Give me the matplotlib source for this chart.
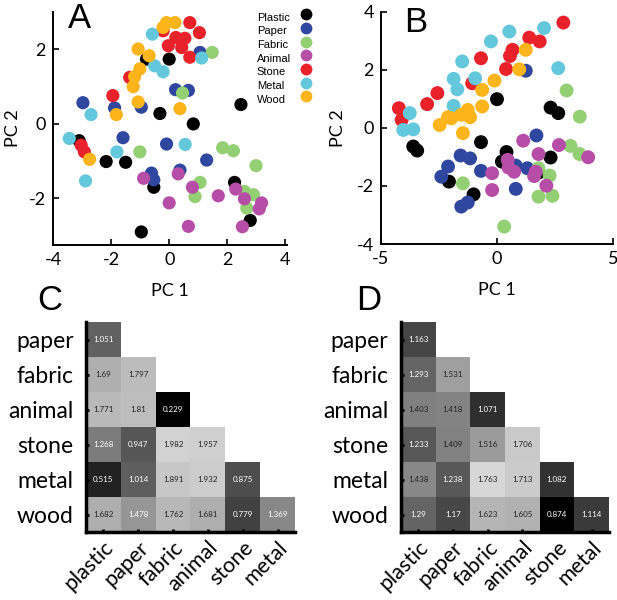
import numpy as np
import matplotlib
matplotlib.use('Agg')
import matplotlib.pyplot as plt
from matplotlib.lines import Line2D

plt.rcParams['font.family'] = ['Lato', 'DejaVu Sans']
plt.rcParams['axes.unicode_minus'] = False

categories = ['Plastic', 'Paper', 'Fabric', 'Animal', 'Stone', 'Metal', 'Wood']
colors = ['#000000', '#2f479e', '#93cf73', '#b64ea7', '#e9212b', '#64c8dc', '#fbb51a']

# Panel A, PC scores per material
a_plastic_x = [-0.78, 0.0, 2.47, -0.32, 0.83, -2.17, -1.5, -0.53, 2.25, 2.79, -0.96, -3.1]
a_plastic_y = [1.74, 1.74, 0.52, 0.28, 0.0, -1.01, -1.03, -1.70, -1.57, -2.59, -2.9, -0.45]
a_paper_x = [1.06, 0.22, 0.66, -2.97, -1.88, -0.96, -1.59, -0.09, 1.29, -0.61, -0.53, 0.37]
a_paper_y = [1.92, 0.92, 0.9, 0.57, 0.43, 0.45, -0.37, -0.54, -0.97, -1.32, -1.5, -1.24]
a_fabric_x = [1.48, 0.46, -1.01, 1.84, 2.21, 2.99, 1.06, 0.89, 2.59, 2.9, 2.67]
a_fabric_y = [1.92, 0.83, -0.75, -0.64, -0.72, -1.12, -1.57, -1.95, -1.81, -1.9, -2.26]
a_animal_x = [-0.88, 0.31, 0.8, 0.0, 1.69, 2.29, 2.59, 3.18, 3.1, 0.66, 2.52]
a_animal_y = [-1.46, -1.34, -1.70, -2.12, -1.93, -1.75, -2.01, -2.12, -2.28, -2.75, -2.76]
a_stone_x = [0.71, 1.04, 0.23, -0.03, 0.43, 0.71, -0.21, 0.54, -1.36, -1.94, -3.03, -2.92]
a_stone_y = [2.72, 2.45, 2.32, 2.10, 2.05, 1.79, 2.50, 2.30, 1.25, 0.76, -0.57, -0.75]
a_metal_x = [-0.58, 1.12, -0.5, -0.21, -2.69, -3.44, -1.8, 0.55, -2.88]
a_metal_y = [2.41, 1.77, 1.56, 1.40, 0.25, -0.39, -0.75, -0.55, -1.53]
a_wood_x = [-0.09, 0.2, -0.21, -1.07, -0.69, -1.01, -1.19, -1.24, -1.07, -1.82, 0.37, -2.74]
a_wood_y = [2.72, 2.72, 2.59, 2.01, 1.83, 1.48, 1.27, 1.0, 0.59, 0.25, 0.41, -0.95]

# Panel B
b_plastic_x = [0.0, 2.31, 2.64, -3.61, -3.44, -0.69, 0.41, 0.21, 2.31, 1.79, -2.07, -1.01]
b_plastic_y = [0.99, 0.70, 0.51, -0.64, -0.78, -0.49, -0.83, -1.16, -1.02, -1.54, -1.85, -2.29]
b_paper_x = [1.24, 1.7, -1.57, -1.16, -2.11, -2.4, -0.69, 0.81, 1.31, 0.81, -1.54, -1.26]
b_paper_y = [1.97, -0.26, -0.95, -1.05, -1.33, -1.68, -1.48, -1.30, -1.39, -2.10, -2.71, -2.57]
b_fabric_x = [3.0, 3.57, 3.17, 3.56, 1.79, 2.27, 1.79, 2.39, -1.47, 0.31]
b_fabric_y = [1.29, 0.39, -0.62, -0.9, -1.39, -1.64, -2.37, -2.34, -1.91, -3.4]
b_animal_x = [1.13, 2.67, 1.79, 3.93, 0.46, 0.5, 0.74, -0.21, -0.21, 1.67, 1.6, 2.13]
b_animal_y = [-0.44, -0.59, -0.9, -1.01, -1.10, -1.37, -1.51, -1.56, -2.14, -1.51, -1.66, -1.99]
b_stone_x = [2.86, 1.39, 1.84, 0.67, 0.56, -0.69, 0.39, -1.07, -2.57, -3.01, -4.23, -4.11]
b_stone_y = [3.63, 3.11, 2.98, 2.69, 2.48, 2.40, 2.03, 1.54, 1.20, 0.82, 0.68, 0.28]
b_metal_x = [2.03, 0.53, -0.26, -1.5, -1.87, -1.71, -0.94, 2.64, -1.87, -3.76, -4.04, -3.61]
b_metal_y = [3.44, 3.32, 2.98, 2.29, 1.69, 1.33, 1.71, 2.06, 0.76, 0.51, -0.07, -0.05]
b_wood_x = [1.24, 0.96, -0.11, -0.64, -0.64, -1.26, -1.54, -1.97, -1.16, -2.47, -2.11, -1.47]
b_wood_y = [2.69, 2.02, 1.63, 1.31, 0.74, 0.62, 0.45, 0.33, 0.37, 0.10, 0.37, -0.18]

# Panels C and D, distance matrices (lower triangle)
row_labels = ['paper', 'fabric', 'animal', 'stone', 'metal', 'wood']
col_labels = ['plastic', 'paper', 'fabric', 'animal', 'stone', 'metal']
c_rows = [
    [1.051],
    [1.69, 1.797],
    [1.771, 1.81, 0.229],
    [1.268, 0.947, 1.982, 1.957],
    [0.515, 1.014, 1.891, 1.932, 0.875],
    [1.682, 1.478, 1.762, 1.681, 0.779, 1.369],
]
d_rows = [
    [1.163],
    [1.293, 1.531],
    [1.403, 1.418, 1.071],
    [1.233, 1.409, 1.516, 1.706],
    [1.438, 1.238, 1.763, 1.713, 1.082],
    [1.29, 1.17, 1.623, 1.605, 0.874, 1.114],
]

fig = plt.figure(figsize=(6.17, 6.0), dpi=100)


def scatter_panel(ax, xs, ys, size, ylabelpad):
    for x, y, c in zip(xs, ys, colors):
        ax.scatter(x, y, s=size, color=c, edgecolors='none', zorder=3)
    for side in ['top', 'right']:
        ax.spines[side].set_visible(False)
    for side in ['left', 'bottom']:
        ax.spines[side].set_linewidth(1.4)
    ax.tick_params(direction='in', length=4, width=1.2, labelsize=13, pad=5)
    ax.set_xlabel('PC 1', fontsize=13, labelpad=11)
    ax.set_ylabel('PC 2', fontsize=13, labelpad=ylabelpad)


ax_a = fig.add_axes([0.0859, 0.5917, 0.379, 0.388])
scatter_panel(ax_a,
              [a_plastic_x, a_paper_x, a_fabric_x, a_animal_x, a_stone_x, a_metal_x, a_wood_x],
              [a_plastic_y, a_paper_y, a_fabric_y, a_animal_y, a_stone_y, a_metal_y, a_wood_y], 90, 6)
ax_a.set_xlim(-4, 4.05)
ax_a.set_ylim(-3.25, 3.0)
ax_a.set_xticks([-4, -2, 0, 2, 4])
ax_a.set_yticks([-2, 0, 2])

ax_b = fig.add_axes([0.6175, 0.5933, 0.376, 0.387])
scatter_panel(ax_b,
              [b_plastic_x, b_paper_x, b_fabric_x, b_animal_x, b_stone_x, b_metal_x, b_wood_x],
              [b_plastic_y, b_paper_y, b_fabric_y, b_animal_y, b_stone_y, b_metal_y, b_wood_y], 100, 8)
ax_b.set_xlim(-5, 5)
ax_b.set_ylim(-4, 4)
ax_b.set_xticks([-5, 0, 5])
ax_b.set_yticks([-4, -2, 0, 2, 4])

# legend: text column and marker column kept separate so the text is left aligned
legend_prop = {'family': 'Liberation Sans', 'size': 8}
text_handles = [Line2D([], [], linestyle='', marker='') for _ in categories]
fig.legend(text_handles, categories, loc='upper left', bbox_to_anchor=(0.4165, 0.979),
           bbox_transform=fig.transFigure, frameon=False, borderaxespad=0,
           handlelength=0, handletextpad=0, borderpad=0, labelspacing=0.33, prop=legend_prop)
marker_handles = [Line2D([], [], linestyle='', marker='o', markersize=8.5,
                         markerfacecolor=c, markeredgecolor='none') for c in colors]
fig.legend(marker_handles, [''] * len(colors), loc='upper left', bbox_to_anchor=(0.4875, 0.983),
           bbox_transform=fig.transFigure, frameon=False, borderaxespad=0,
           handlelength=1, handletextpad=0, borderpad=0, labelspacing=0.33, prop=legend_prop)


def matrix_panel(ax, rows, vmin, vmax, white_below):
    n = len(row_labels)
    mat = np.full((n, n), np.nan)
    for i, r in enumerate(rows):
        mat[i, :len(r)] = r
    ax.imshow(np.ma.masked_invalid(mat), cmap='gray', vmin=vmin, vmax=vmax,
              aspect='auto', interpolation='nearest')
    for i, r in enumerate(rows):
        for j, v in enumerate(r):
            frac = (v - vmin) / (vmax - vmin)
            ax.text(j, i, f'{v:g}', ha='center', va='center', fontsize=5.8,
                    color='white' if frac < white_below else '#222222')
    ax.set_xlim(-0.5, n - 0.5)
    ax.set_ylim(n - 0.5, -0.5)
    for side in ['top', 'right']:
        ax.spines[side].set_visible(False)
    for side in ['left', 'bottom']:
        ax.spines[side].set_linewidth(2.5)
    ax.set_xticks(range(n))
    ax.set_yticks(range(n))
    ax.set_xticklabels(col_labels, rotation=45, ha='right', rotation_mode='anchor', fontsize=15.5)
    ax.set_yticklabels(row_labels, fontsize=16.5)
    ax.tick_params(axis='y', direction='in', length=2, width=2, pad=9)
    ax.tick_params(axis='x', direction='in', length=2, width=2, pad=4)


ax_c = fig.add_axes([0.1394, 0.1133, 0.3387, 0.35])
matrix_panel(ax_c, c_rows, 0.229, 2.36, 0.6)

ax_d = fig.add_axes([0.6499, 0.1133, 0.337, 0.35])
matrix_panel(ax_d, d_rows, 0.874, 1.93, 0.5)

for letter, x, y in [('A', 80, 19), ('B', 416, 22), ('C', 50, 300), ('D', 369, 300)]:
    fig.text(x / 617, 1 - y / 600, letter, ha='center', va='center', fontsize=25,
             family='Liberation Sans')

fig.savefig('out.png', dpi=100)
